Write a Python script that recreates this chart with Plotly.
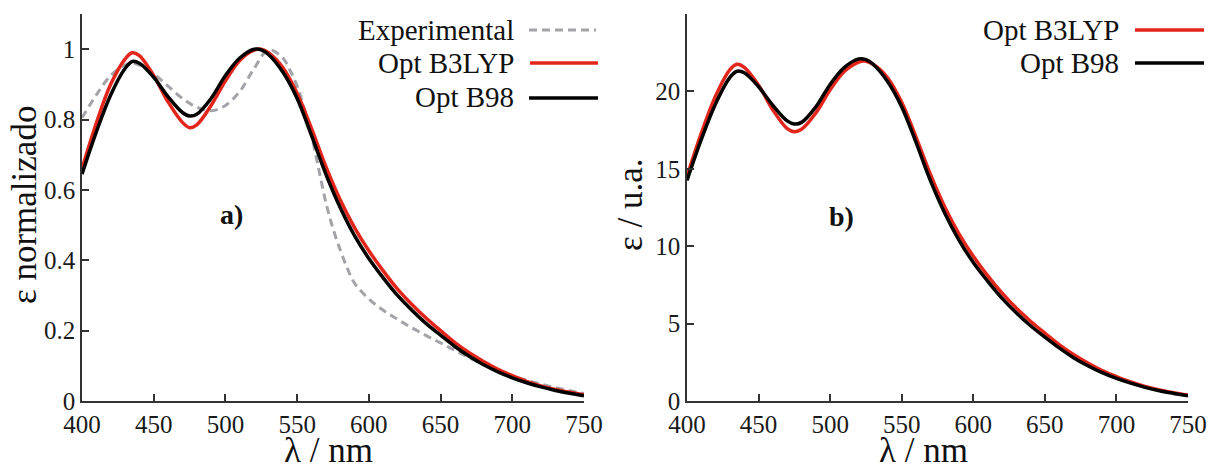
import plotly.graph_objects as go

# ---------------- data ----------------
wl = [400, 410, 420, 430, 435, 440, 450, 460, 470, 475, 480, 490, 500, 510, 520, 525, 530,
      540, 550, 560, 570, 580, 590, 600, 610, 620, 630, 640, 650, 660, 670, 680, 690, 700,
      710, 720, 730, 740, 750]

norm_b3lyp = [0.66, 0.79, 0.90, 0.972, 0.99, 0.982, 0.925, 0.85, 0.792, 0.777, 0.785, 0.84,
              0.91, 0.968, 0.997, 1.0, 0.99, 0.948, 0.875, 0.775, 0.667, 0.572, 0.493, 0.427,
              0.37, 0.318, 0.274, 0.235, 0.20, 0.166, 0.137, 0.112, 0.09, 0.072, 0.056,
              0.043, 0.033, 0.025, 0.018]

norm_b98 = [0.645, 0.765, 0.87, 0.945, 0.965, 0.96, 0.92, 0.865, 0.82, 0.81, 0.815, 0.86,
            0.925, 0.975, 1.0, 0.998, 0.985, 0.935, 0.86, 0.755, 0.645, 0.55, 0.47, 0.405,
            0.35, 0.30, 0.258, 0.22, 0.187, 0.155, 0.127, 0.103, 0.083, 0.066, 0.052,
            0.04, 0.03, 0.022, 0.015]

wl_exp = [400, 410, 420, 430, 435, 440, 450, 460, 470, 480, 490, 500, 510, 520, 530, 540,
          545, 550, 555, 560, 565, 570, 575, 580, 585, 590, 600, 610, 620, 630, 640, 650,
          660, 670, 680, 690, 700, 710, 720, 730, 740, 750]
norm_exp = [0.805, 0.87, 0.925, 0.955, 0.96, 0.955, 0.93, 0.895, 0.86, 0.835, 0.825, 0.84,
            0.88, 0.945, 0.998, 0.975, 0.94, 0.895, 0.83, 0.755, 0.66, 0.565, 0.49, 0.43,
            0.377, 0.335, 0.29, 0.258, 0.232, 0.208, 0.186, 0.165, 0.144, 0.123, 0.104,
            0.087, 0.072, 0.059, 0.048, 0.038, 0.029, 0.021]

abs_b3lyp = [14.5, 17.3, 19.7, 21.4, 21.75, 21.55, 20.4, 18.8, 17.6, 17.4, 17.55, 18.6,
             20.1, 21.3, 21.9, 21.95, 21.75, 20.9, 19.3, 17.05, 14.65, 12.55, 10.8, 9.35,
             8.1, 6.98, 6.0, 5.15, 4.38, 3.64, 3.0, 2.45, 1.97, 1.58, 1.23, 0.94, 0.72, 0.54, 0.38]

abs_b98 = [14.25, 16.9, 19.2, 20.9, 21.3, 21.2, 20.3, 19.1, 18.1, 17.9, 18.0, 19.0,
           20.45, 21.55, 22.1, 22.05, 21.75, 20.65, 19.0, 16.7, 14.25, 12.15, 10.4, 8.95,
           7.75, 6.65, 5.7, 4.86, 4.13, 3.43, 2.8, 2.28, 1.83, 1.46, 1.15, 0.88, 0.66, 0.49, 0.33]

x_ticks = [400, 450, 500, 550, 600, 650, 700, 750]
ya_ticks = [0, 0.2, 0.4, 0.6, 0.8, 1.0]
ya_ticktext = ["0", "0.2", "0.4", "0.6", "0.8", "1"]
yb_ticks = [0, 5, 10, 15, 20]

# ---------------- styling ----------------
W, H = 1212, 468
SERIF = "Liberation Serif"
RED = "#e3261b"
BLACK = "#000000"
GRAY = "#a3a3aa"
AX = "#333333"

def px(x):
    return x / W

def py(y):
    return (H - y) / H

fig = go.Figure()

fig.add_trace(go.Scatter(x=wl_exp, y=norm_exp, mode="lines", line=dict(color=GRAY, width=3, dash="8px,5px", shape="spline"),
                         xaxis="x", yaxis="y", showlegend=False))
fig.add_trace(go.Scatter(x=wl, y=norm_b3lyp, mode="lines", line=dict(color=RED, width=3.5, shape="spline"),
                         xaxis="x", yaxis="y", showlegend=False))
fig.add_trace(go.Scatter(x=wl, y=norm_b98, mode="lines", line=dict(color=BLACK, width=3.5, shape="spline"),
                         xaxis="x", yaxis="y", showlegend=False))
fig.add_trace(go.Scatter(x=wl, y=abs_b3lyp, mode="lines", line=dict(color=RED, width=3.5, shape="spline"),
                         xaxis="x2", yaxis="y2", showlegend=False))
fig.add_trace(go.Scatter(x=wl, y=abs_b98, mode="lines", line=dict(color=BLACK, width=3.5, shape="spline"),
                         xaxis="x2", yaxis="y2", showlegend=False))

axis_common = dict(showline=True, linecolor=AX, linewidth=1.5, ticks="inside", ticklen=7, tickwidth=1.5,
                   tickcolor=AX, showgrid=False, zeroline=False, mirror=False, automargin=False,
                   tickfont=dict(family=SERIF, size=25, color="#1a1a1a"))

ydom = [py(401), py(14)]
fig.update_layout(
    width=W, height=H,
    margin=dict(l=0, r=0, t=0, b=0, autoexpand=False),
    paper_bgcolor="white", plot_bgcolor="white",
    showlegend=False,
    font=dict(family=SERIF),
    xaxis=dict(domain=[px(82), px(584)], range=[400, 750], tickvals=x_ticks, anchor="y", **axis_common),
    yaxis=dict(domain=ydom, range=[0, 1.1], tickvals=ya_ticks, ticktext=ya_ticktext, anchor="x", **axis_common),
    xaxis2=dict(domain=[px(687), px(1188)], range=[400, 750], tickvals=x_ticks, anchor="y2", **axis_common),
    yaxis2=dict(domain=ydom, range=[0, 25], tickvals=yb_ticks, anchor="x2", **axis_common),
)

title_font = dict(family=SERIF, size=35, color="#111111")
anns = [
    dict(x=px(328), y=py(450), text="λ / nm", font=title_font),
    dict(x=px(923), y=py(450), text="λ / nm", font=title_font),
    dict(x=px(24), y=py(205), text="ε normalizado", textangle=-90, font=title_font),
    dict(x=px(630), y=py(205), text="ε / u.a.", textangle=-90, font=title_font),
    dict(x=px(231), y=py(214), text="<b>a)</b>", font=dict(family=SERIF, size=28, color="#111111")),
    dict(x=px(841), y=py(216), text="<b>b)</b>", font=dict(family=SERIF, size=28, color="#111111")),
]
leg_font = dict(family=SERIF, size=29, color="#111111")
legend_left = [("Experimental", 30), ("Opt B3LYP", 63), ("Opt B98", 97)]
for txt, yy in legend_left:
    anns.append(dict(x=px(516), y=py(yy), text=txt, xanchor="right", font=leg_font))
legend_right = [("Opt B3LYP", 30), ("Opt B98", 63)]
for txt, yy in legend_right:
    anns.append(dict(x=px(1121), y=py(yy), text=txt, xanchor="right", font=leg_font))
for a in anns:
    a.setdefault("xanchor", "center")
    a.update(xref="paper", yref="paper", yanchor="middle", showarrow=False)
fig.update_layout(annotations=anns)

shapes = [
    dict(x0=px(529), x1=px(596), y0=py(30), y1=py(30), line=dict(color=GRAY, width=3, dash="8px,5px")),
    dict(x0=px(530), x1=px(598), y0=py(63), y1=py(63), line=dict(color=RED, width=3.5)),
    dict(x0=px(529), x1=px(598), y0=py(98), y1=py(98), line=dict(color=BLACK, width=3.5)),
    dict(x0=px(1135), x1=px(1204), y0=py(30), y1=py(30), line=dict(color=RED, width=3.5)),
    dict(x0=px(1135), x1=px(1204), y0=py(63), y1=py(63), line=dict(color=BLACK, width=3.5)),
]
for s in shapes:
    s.update(type="line", xref="paper", yref="paper")
fig.update_layout(shapes=shapes)

fig.write_html("out.html",
               config={"displayModeBar": False},
               post_script="document.body.style.margin='0';document.body.style.overflow='hidden';")
